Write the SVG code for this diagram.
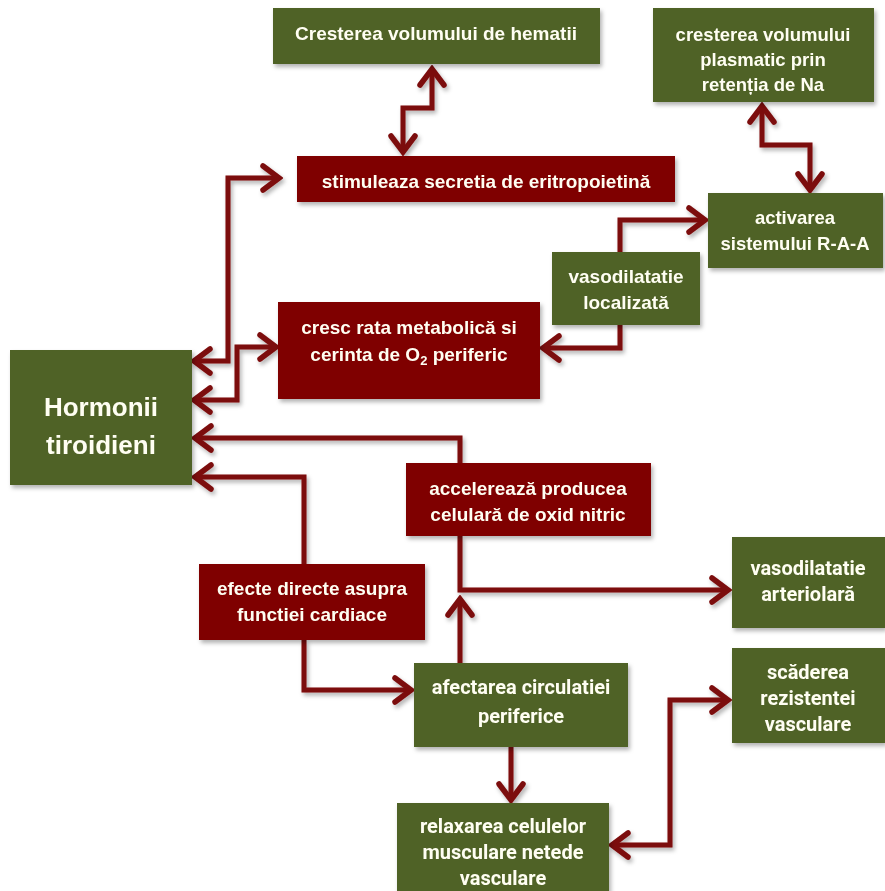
<svg xmlns="http://www.w3.org/2000/svg" width="885" height="891" viewBox="0 0 885 891">
<defs>
<filter id="sh" x="-10%" y="-10%" width="130%" height="130%">
<feDropShadow dx="2" dy="3" stdDeviation="2" flood-color="#000" flood-opacity="0.3"/>
</filter>
<marker id="arr" viewBox="0 0 24 30" refX="20" refY="15" markerWidth="24" markerHeight="30" markerUnits="userSpaceOnUse" orient="auto-start-reverse">
<path d="M4,3 L20,15 L4,27" fill="none" stroke="#7b0a0a" stroke-width="5.5" stroke-linecap="round" stroke-linejoin="miter"/>
</marker>
</defs>
<style>
.g{fill:#4f6228}
.r{fill:#7f0000}
.box{filter:url(#sh)}
.t{font-family:"Liberation Sans",Arial,sans-serif;font-weight:bold;font-size:19px;fill:#fffef2;text-anchor:middle}
.s{font-size:18.5px}
.rb{font-family:Roboto,"Liberation Sans",sans-serif;font-weight:bold;font-size:20px;fill:#fffef2;text-anchor:middle}
.big{font-size:26px}
.c{fill:none;stroke:#7b0a0a;stroke-width:5;stroke-linejoin:miter}
.e{marker-end:url(#arr)}
.b{marker-start:url(#arr);marker-end:url(#arr)}
</style>
<rect width="885" height="891" fill="#fff"/>

<g id="connectors" filter="url(#sh)">
<path class="c b" d="M194,361 H228 V178 H279"/>
<path class="c b" d="M194,400 H237 V347 H276"/>
<path class="c e" d="M460,463 V438 H195"/>
<path class="c e" d="M304,564 V477 H195"/>
<path class="c e" d="M304,640 V690 H411"/>
<path class="c e" d="M460,663 V599"/>
<path class="c e" d="M460,536 V590 H728"/>
<path class="c b" d="M432,69 V108 H403 V152"/>
<path class="c b" d="M762,106 V145 H810 V190"/>
<path class="c e" d="M620,252 V220 H705"/>
<path class="c e" d="M620,325 V348 H543"/>
<path class="c e" d="M511,747 V800"/>
<path class="c b" d="M612,845 H670 V700 H728"/>
</g>

<g id="n_hematii" class="box"><rect class="g" x="273" y="8" width="327" height="56"/>
<text class="t" x="436" y="40">Cresterea volumului de hematii</text></g>

<g id="n_plasmatic" class="box"><rect class="g" x="653" y="8" width="221" height="94"/>
<text class="t s" x="763" y="41">cresterea volumului</text>
<text class="t s" x="763" y="66">plasmatic prin</text>
<text class="t s" x="763" y="91">retenția de Na</text></g>

<g id="n_stimuleaza" class="box"><rect class="r" x="297" y="156" width="378" height="46"/>
<text class="t" x="486" y="188">stimuleaza secretia de eritropoietină</text></g>

<g id="n_activarea" class="box"><rect class="g" x="708" y="193" width="175" height="75"/>
<text class="t s" x="795" y="224">activarea</text>
<text class="t s" x="795" y="250">sistemului R-A-A</text></g>

<g id="n_vasoloc" class="box"><rect class="g" x="552" y="252" width="148" height="73"/>
<text class="t" x="626" y="283">vasodilatatie</text>
<text class="t" x="626" y="309">localizată</text></g>

<g id="n_cresc" class="box"><rect class="r" x="278" y="302" width="262" height="97"/>
<text class="t" x="409" y="334">cresc rata metabolică si</text>
<text class="t" x="409" y="361">cerinta de O<tspan font-size="13" dy="4">2</tspan><tspan dy="-4"> periferic</tspan></text></g>

<g id="n_hormonii" class="box"><rect class="g" x="10" y="350" width="182" height="135"/>
<text class="t big" x="101" y="416">Hormonii</text>
<text class="t big" x="101" y="454">tiroidieni</text></g>

<g id="n_accel" class="box"><rect class="r" x="406" y="463" width="245" height="73"/>
<text class="t" x="528" y="495">accelerează producea</text>
<text class="t" x="528" y="521">celulară de oxid nitric</text></g>

<g id="n_vasoart" class="box"><rect class="g" x="732" y="537" width="153" height="91"/>
<text class="rb" x="808" y="575">vasodilatatie</text>
<text class="rb" x="808" y="601">arteriolară</text></g>

<g id="n_efecte" class="box"><rect class="r" x="199" y="564" width="226" height="76"/>
<text class="t" x="312" y="595">efecte directe asupra</text>
<text class="t" x="312" y="621">functiei cardiace</text></g>

<g id="n_afectarea" class="box"><rect class="g" x="414" y="663" width="214" height="84"/>
<text class="rb" x="521" y="694">afectarea circulatiei</text>
<text class="rb" x="521" y="723">periferice</text></g>

<g id="n_scaderea" class="box"><rect class="g" x="732" y="648" width="153" height="95"/>
<text class="rb" x="808" y="679">scăderea</text>
<text class="rb" x="808" y="705">rezistentei</text>
<text class="rb" x="808" y="731">vasculare</text></g>

<g id="n_relaxarea" class="box"><rect class="g" x="397" y="803" width="212" height="90"/>
<text class="rb" x="503" y="833">relaxarea celulelor</text>
<text class="rb" x="503" y="859">musculare netede</text>
<text class="rb" x="503" y="885">vasculare</text></g>
</svg>
